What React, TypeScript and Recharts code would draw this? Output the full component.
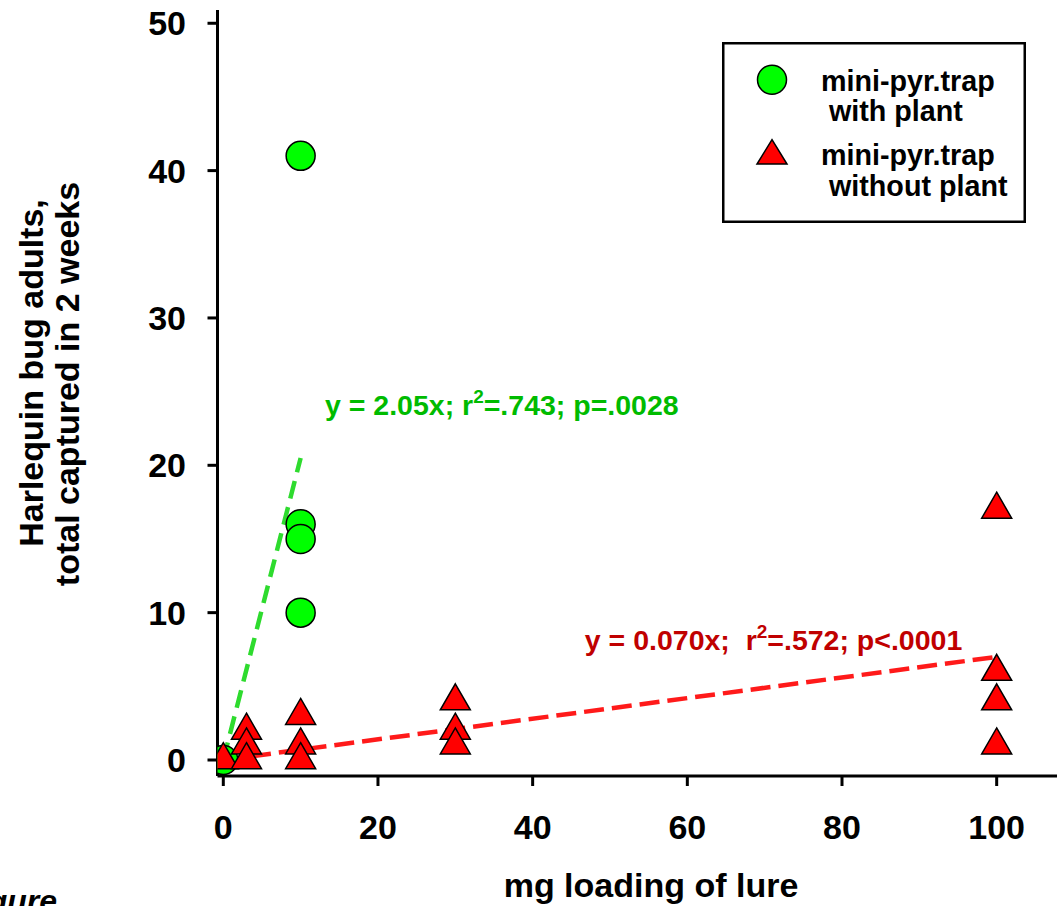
import React from 'react';
import { ScatterChart, Scatter, XAxis, YAxis, Legend } from 'recharts';

// ---- data ----
const withPlantX = [0, 10, 10, 10, 10];
const withPlantY = [0, 41, 16, 15, 10];
const withoutPlantX = [0, 3, 3, 3, 10, 10, 10, 30, 30, 30, 100, 100, 100, 100];
const withoutPlantY = [0, 2, 1, 0, 3, 1, 0, 4, 2, 1, 17, 6, 4, 1];
const withPlantFitX = [0, 10];
const withPlantFitY = [0, 20.5];
const withoutPlantFitX = [0, 100];
const withoutPlantFitY = [0, 7.0];
const xTicks = [0, 20, 40, 60, 80, 100];
const yTicks = [0, 10, 20, 30, 40, 50];
const seriesNames = ['mini-pyr.trap', 'with plant', 'mini-pyr.trap', 'without plant'];
const greenNote = { x: 13.15, y: 23.4, parts: ['y = 2.05x; r', '2', '=.743; p=.0028'] };
const redNote = { x: 46.75, y: 7.45, parts: ['y = 0.070x;  r', '2', '=.572; p<.0001'] };
const xTitle = 'mg loading of lure';
const yTitle = ['Harlequin bug adults,', 'total captured in 2 weeks'];
const captionText = 'Figure';

const zip = (xs: number[], ys: number[]) => xs.map((x, i) => ({ x, y: ys[i] }));
const withPlant = zip(withPlantX, withPlantY);
const withoutPlant = zip(withoutPlantX, withoutPlantY);
const withPlantFit = zip(withPlantFitX, withPlantFitY);
const withoutPlantFit = zip(withoutPlantFitX, withoutPlantFitY);

const FONT = "'Liberation Sans', Arial, Helvetica, sans-serif";
const GREEN_FILL = '#00FF00';
const GREEN_LINE = '#2EDB2E';
const GREEN_TEXT = '#00BB00';
const RED_FILL = '#FF0000';
const RED_LINE = '#FF1A1A';
const RED_TEXT = '#C00000';

const CircleShape = (p: any) => (
  <circle cx={p.cx} cy={p.cy} r={14.5} fill={GREEN_FILL} stroke="#000" strokeWidth={1.5} />
);
const TriangleShape = (p: any) => (
  <polygon
    points={`${p.cx},${p.cy - 17.3} ${p.cx + 15},${p.cy + 8.7} ${p.cx - 15},${p.cy + 8.7}`}
    fill={RED_FILL}
    stroke="#000"
    strokeWidth={1.5}
  />
);
const NoShape = () => <g />;

const makeNote = (parts: string[], color: string) => (p: any) => (
  <text
    x={p.cx}
    y={p.cy}
    fontFamily={FONT}
    fontWeight="bold"
    fontSize={28.5}
    fill={color}
    style={{ whiteSpace: 'pre' }}
    xmlSpace="preserve"
  >
    {parts[0]}
    <tspan dy={-12} fontSize={19}>{parts[1]}</tspan>
    <tspan dy={12}>{parts[2]}</tspan>
  </text>
);

const LegendBox = () => (
  <svg width={304} height={181} style={{ display: 'block' }}>
    <rect x={1.25} y={1.25} width={301.5} height={178.5} fill="#fff" stroke="#000" strokeWidth={2.5} />
    <circle cx={50} cy={37.7} r={14.5} fill={GREEN_FILL} stroke="#000" strokeWidth={1.5} />
    <polygon points="50,97.7 65,122 35,122" fill={RED_FILL} stroke="#000" strokeWidth={1.5} />
    <g fontFamily={FONT} fontWeight="bold" fontSize={28.7} fill="#000">
      <text x={99} y={49}>{seriesNames[0]}</text>
      <text x={107} y={79.4}>{seriesNames[1]}</text>
      <text x={99} y={122.7}>{seriesNames[2]}</text>
      <text x={107} y={154.4}>{seriesNames[3]}</text>
    </g>
  </svg>
);

const XTitle = () => (
  <g fontFamily={FONT} fontWeight="bold" fill="#000">
    <text x={651} y={897} textAnchor="middle" fontSize={34}>{xTitle}</text>
    <text x={57} y={911.5} textAnchor="end" fontSize={32} fontStyle="italic">{captionText}</text>
  </g>
);

const YTitle = () => (
  <g fontFamily={FONT} fontWeight="bold" fill="#000" fontSize={34}>
    <text x={42.5} y={373} textAnchor="middle" transform="rotate(-90 42.5 373)">{yTitle[0]}</text>
    <text x={79} y={384} textAnchor="middle" transform="rotate(-90 79 384)">{yTitle[1]}</text>
  </g>
);

const tickStyle = { fontSize: 34, fontWeight: 'bold', fill: '#000', fontFamily: FONT };
const axisStroke = { stroke: '#000', strokeWidth: 3 };

export default function App() {
  return (
    <div style={{ position: 'absolute', left: 0, top: 0, width: 1057, height: 906, overflow: 'hidden', background: '#fff' }}>
      <ScatterChart width={1057} height={906} margin={{ top: 10, right: 0, bottom: 0, left: 0 }}>
        <XAxis
          type="number"
          dataKey="x"
          domain={[-0.75, 107.8]}
          ticks={xTicks}
          interval={0}
          height={130}
          tickSize={10}
          tickMargin={29}
          tick={tickStyle}
          tickLine={axisStroke}
          axisLine={axisStroke}
          allowDataOverflow
          label={{ content: () => <XTitle /> }}
        />
        <XAxis
          xAxisId="top"
          orientation="top"
          type="number"
          dataKey="x"
          domain={[-0.75, 107.8]}
          height={0}
          tick={false}
          tickLine={false}
          axisLine={axisStroke}
          allowDataOverflow
        />
        <YAxis
          type="number"
          dataKey="y"
          domain={[-1.086, 50.9]}
          ticks={yTicks}
          interval={0}
          width={217.5}
          tickSize={10}
          tickMargin={21.5}
          tick={tickStyle}
          tickLine={axisStroke}
          axisLine={axisStroke}
          allowDataOverflow
          label={{ content: () => <YTitle /> }}
        />
        <Legend
          verticalAlign="middle"
          align="center"
          layout="horizontal"
          content={() => <LegendBox />}
          wrapperStyle={{ position: 'absolute', left: 722, top: 42, width: 304, height: 181 }}
        />
        <Scatter
          data={withPlantFit}
          shape={NoShape}
          line={{ stroke: GREEN_LINE, strokeWidth: 4.5, strokeDasharray: '18 9' }}
          isAnimationActive={false}
          legendType="none"
        />
        <Scatter
          data={withoutPlantFit}
          shape={NoShape}
          line={{ stroke: RED_LINE, strokeWidth: 4.5, strokeDasharray: '20 8' }}
          isAnimationActive={false}
          legendType="none"
        />
        <Scatter data={withPlant} shape={CircleShape} isAnimationActive={false} />
        <Scatter data={withoutPlant} shape={TriangleShape} isAnimationActive={false} />
        <Scatter data={[greenNote]} shape={makeNote(greenNote.parts, GREEN_TEXT)} isAnimationActive={false} legendType="none" />
        <Scatter data={[redNote]} shape={makeNote(redNote.parts, RED_TEXT)} isAnimationActive={false} legendType="none" />
      </ScatterChart>
    </div>
  );
}
